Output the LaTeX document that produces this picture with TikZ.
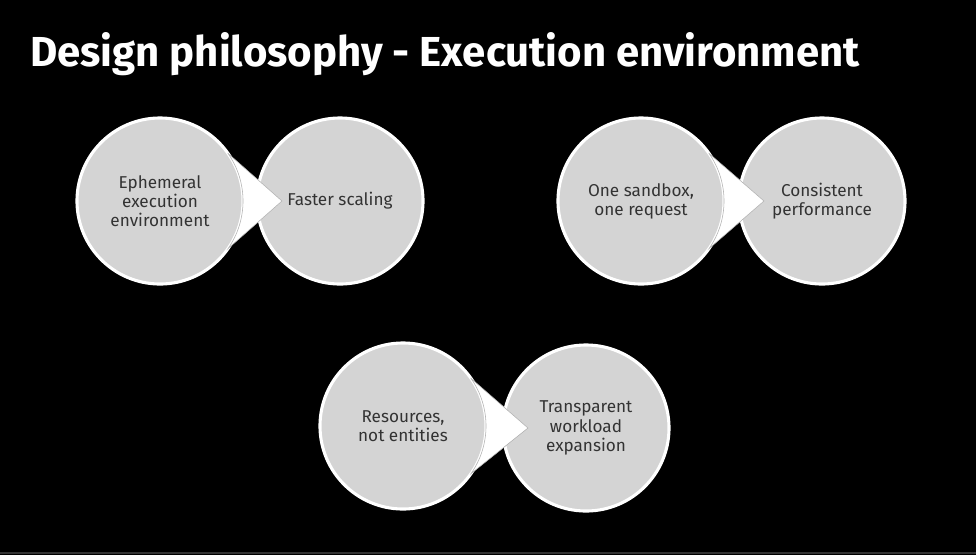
\documentclass[tikz,border=0pt]{standalone}
\usepackage{fontspec}
\setmainfont{Fira Sans}
\usetikzlibrary{calc}

\definecolor{bubblegray}{HTML}{D4D4D4}
\definecolor{textgray}{HTML}{333333}

\tikzset{
  bubble/.style={circle, draw=white, line width=2.2pt, fill=bubblegray,
    minimum size=4.15cm, inner sep=0pt, outer sep=0pt, align=center,
    text=textgray, font=\fontsize{12.2}{13.6}\selectfont},
  pointer/.style={fill=white, draw=gray!60, line width=0.4pt}
}

\begin{document}
\begin{tikzpicture}[x=0.025cm, y=-0.025cm]

% background
\useasboundingbox (0,0) rectangle (976,555);
\fill[black] (0,0) rectangle (976,555);
\draw[gray!40!black, line width=1pt] (0,553) -- (976,553);

% title
\node[anchor=base west, inner sep=0pt, text=white,
  font=\fontsize{29.8}{36}\bfseries\selectfont] (title) at (30,66)
  {Design philosophy - Execution environment};

% first pair
\node[bubble] (eph) at (160,201) {Ephemeral\\execution\\environment};
\node[bubble] (fast) at (340,201) {Faster scaling};
\path[pointer] (eph.35) -- ($(fast.west)+(25,0)$) -- (eph.-35)
  arc[start angle=35, end angle=-35, radius=83] -- cycle;

% second pair
\node[bubble] (sandbox) at (641,201) {One sandbox,\\one request};
\node[bubble] (perf) at (822,201) {Consistent\\performance};
\path[pointer] (sandbox.35) -- ($(perf.west)+(25,0)$) -- (sandbox.-35)
  arc[start angle=35, end angle=-35, radius=83] -- cycle;

% third pair
\node[bubble] (res) at (403,426) {Resources,\\not entities};
\node[bubble] (expand) at (586,428) {Transparent\\workload\\expansion};
\path[pointer] (res.35) -- ($(expand.west)+(25,0)$) -- (res.-35)
  arc[start angle=35, end angle=-35, radius=83] -- cycle;

\end{tikzpicture}
\end{document}
